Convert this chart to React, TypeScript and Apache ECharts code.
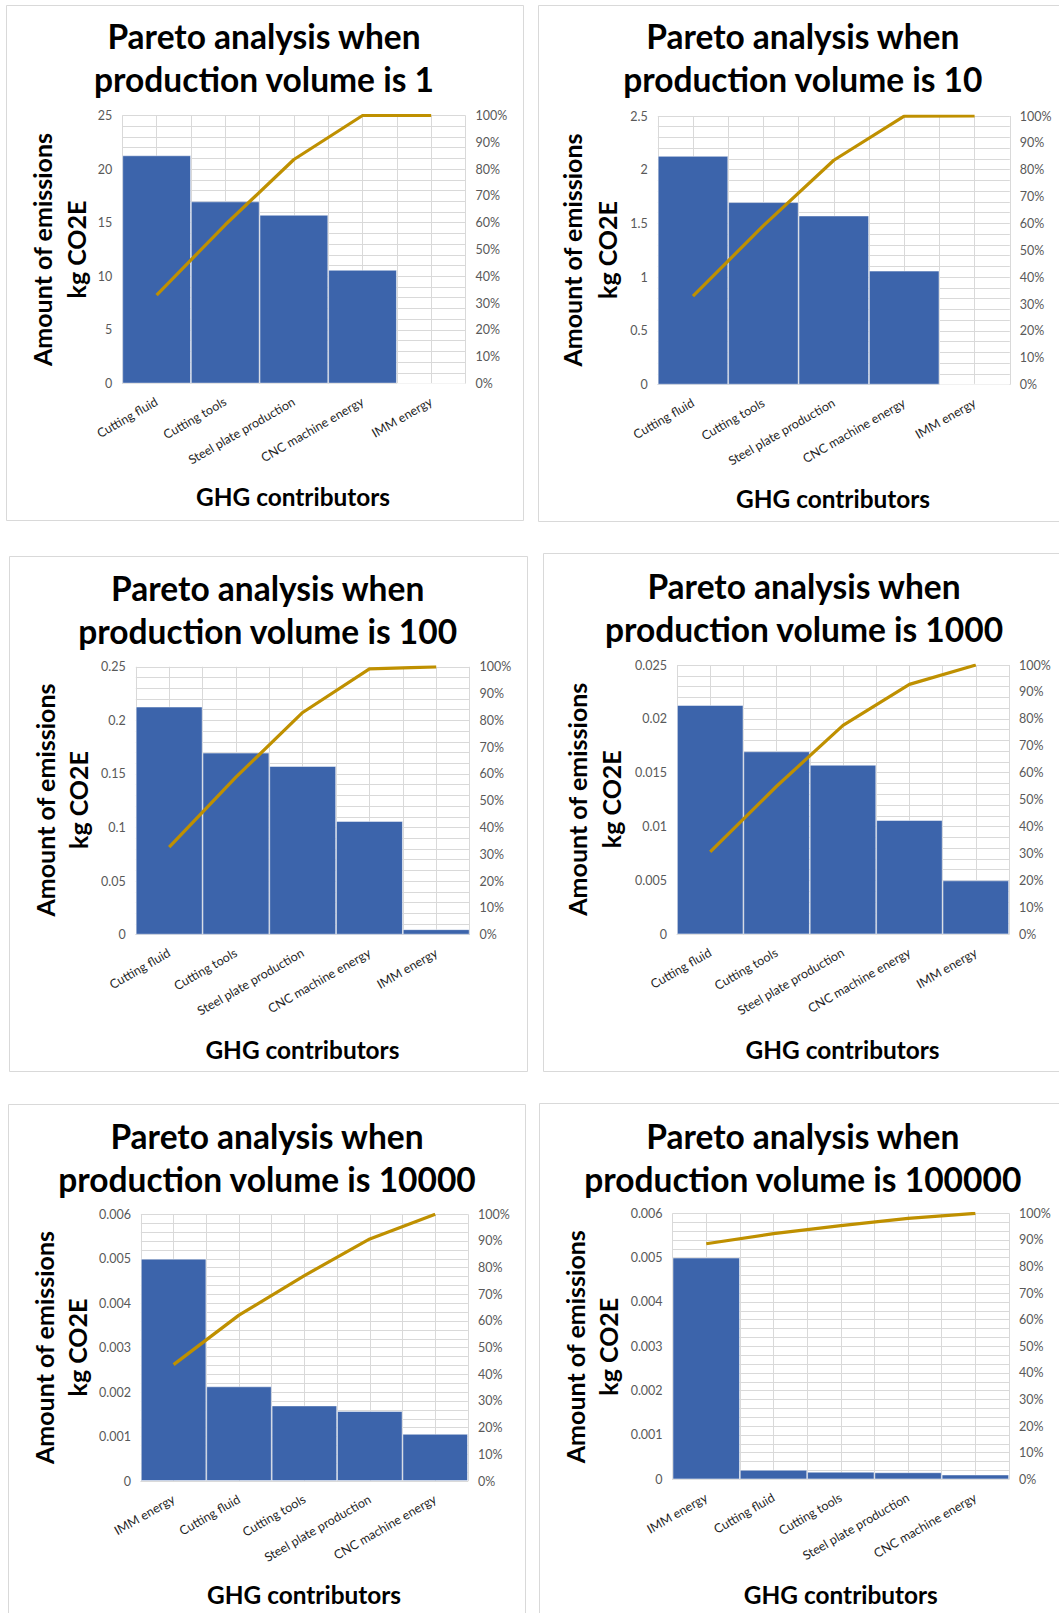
import React, { useEffect, useRef } from "react";
import * as echarts from "echarts";

// Contributors, in descending order of emissions for each production volume
const CATS_SMALL_RUN = ["Cutting fluid", "Cutting tools", "Steel plate production", "CNC machine energy", "IMM energy"];
const CATS_LARGE_RUN = ["IMM energy", "Cutting fluid", "Cutting tools", "Steel plate production", "CNC machine energy"];

// Emissions per part, kg CO2E
const VOL_1 = [21.28, 16.98, 15.73, 10.6, 0.005];
const VOL_10 = [2.128, 1.698, 1.573, 1.06, 0.005];
const VOL_100 = [0.2128, 0.1698, 0.1573, 0.106, 0.005];
const VOL_1000 = [0.02128, 0.01698, 0.01573, 0.0106, 0.005];
const VOL_10000 = [0.005, 0.002128, 0.001698, 0.001573, 0.00106];
const VOL_100000 = [0.005, 0.0002128, 0.0001698, 0.0001573, 0.000106];

const VOLUME_LABELS = ["1", "10", "100", "1000", "10000", "100000"];
const AXIS_MAX = [25, 2.5, 0.25, 0.025, 0.006, 0.006];
const AXIS_STEP = [5, 0.5, 0.05, 0.005, 0.001, 0.001];

const BAR_COLOR = "#3c64ab";
const LINE_COLOR = "#bf9000";
const GRID_COLOR = "#d9d9d9";
const FONT = "Lato, 'Open Sans', sans-serif";

type Panel = {
  cats: string[];
  values: number[];
  volume: string;
  max: number;
  step: number;
  box: [number, number, number, number]; // outline x, y, w, h
  plot: [number, number, number, number]; // plot left, top, width, height
  titleX: number;
  titleY: number;
  yLab: [number, number, number]; // x of first line, x of second line, centre y
  xTitle: [number, number];
};

const PANELS: Panel[] = [
  {
    cats: CATS_SMALL_RUN, values: VOL_1, volume: VOLUME_LABELS[0], max: AXIS_MAX[0], step: AXIS_STEP[0],
    box: [6, 5, 517, 515], plot: [122.3, 115.5, 343.2, 268], titleX: 264, titleY: 36,
    yLab: [42, 76, 249.5], xTitle: [293, 496.6],
  },
  {
    cats: CATS_SMALL_RUN, values: VOL_10, volume: VOLUME_LABELS[1], max: AXIS_MAX[1], step: AXIS_STEP[1],
    box: [538, 5, 540, 516], plot: [657.8, 116, 352, 268.6], titleX: 802.8, titleY: 36,
    yLab: [572.2, 607, 250], xTitle: [833, 498],
  },
  {
    cats: CATS_SMALL_RUN, values: VOL_100, volume: VOLUME_LABELS[2], max: AXIS_MAX[2], step: AXIS_STEP[2],
    box: [9, 556, 518, 515], plot: [135.8, 666.8, 333.8, 267.8], titleX: 267.7, titleY: 587.5,
    yLab: [44.6, 78.4, 800], xTitle: [302.4, 1049],
  },
  {
    cats: CATS_SMALL_RUN, values: VOL_1000, volume: VOLUME_LABELS[3], max: AXIS_MAX[3], step: AXIS_STEP[3],
    box: [543, 553, 540, 518], plot: [677, 665, 332, 269.3], titleX: 804, titleY: 585.7,
    yLab: [577.3, 611, 799.2], xTitle: [842.5, 1049],
  },
  {
    cats: CATS_LARGE_RUN, values: VOL_10000, volume: VOLUME_LABELS[4], max: AXIS_MAX[4], step: AXIS_STEP[4],
    box: [8, 1104, 517, 530], plot: [140.9, 1214.3, 327, 266.7], titleX: 267, titleY: 1136,
    yLab: [43.9, 77, 1347.5], xTitle: [304, 1594],
  },
  {
    cats: CATS_LARGE_RUN, values: VOL_100000, volume: VOLUME_LABELS[5], max: AXIS_MAX[5], step: AXIS_STEP[5],
    box: [539, 1103, 540, 530], plot: [672.6, 1213.3, 336.4, 266], titleX: 802.8, titleY: 1136,
    yLab: [574.6, 608.4, 1346.7], xTitle: [840.8, 1594],
  },
];

// Pareto line: running share of the total
function cumulativeShare(values: number[]): number[] {
  const total = values.reduce((a, b) => a + b, 0);
  let run = 0;
  return values.map((v) => {
    run += v;
    return run / total;
  });
}

function buildOption() {
  const grid: any[] = [];
  const xAxis: any[] = [];
  const yAxis: any[] = [];
  const series: any[] = [];
  const title: any[] = [];
  const graphic: any[] = [];

  PANELS.forEach((p, i) => {
    const [gl, gt, gw, gh] = p.plot;
    grid.push({ left: gl, top: gt, width: gw, height: gh, containLabel: false });

    xAxis.push({
      type: "category",
      gridIndex: i,
      data: p.cats,
      axisLine: { show: true, lineStyle: { color: GRID_COLOR, width: 1 } },
      axisTick: { show: false },
      axisLabel: {
        interval: 0,
        rotate: 30,
        margin: 17,
        fontSize: 12.5,
        color: "#1f1f1f",
        fontFamily: FONT,
      },
      splitLine: { show: false },
    });
    // half-category vertical grid
    xAxis.push({
      type: "value",
      gridIndex: i,
      position: "top",
      min: 0,
      max: 10,
      interval: 1,
      axisLine: { show: false },
      axisTick: { show: false },
      axisLabel: { show: false },
      splitLine: { show: true, lineStyle: { color: GRID_COLOR, width: 1 } },
    });

    yAxis.push({
      type: "value",
      gridIndex: i,
      position: "left",
      min: 0,
      max: p.max,
      interval: p.step,
      axisLine: { show: false },
      axisTick: { show: false },
      axisLabel: { color: "#595959", fontSize: 12.5, margin: 10, fontFamily: FONT },
      splitLine: { show: true, lineStyle: { color: GRID_COLOR, width: 1 } },
      minorTick: { show: false, splitNumber: 5 },
      minorSplitLine: { show: true, lineStyle: { color: GRID_COLOR, width: 1 } },
    });
    yAxis.push({
      type: "value",
      gridIndex: i,
      position: "right",
      min: 0,
      max: 1,
      interval: 0.1,
      axisLine: { show: false },
      axisTick: { show: false },
      axisLabel: {
        color: "#595959",
        fontSize: 12.5,
        margin: 10,
        fontFamily: FONT,
        formatter: (v: number) => Math.round(v * 100) + "%",
      },
      splitLine: { show: false },
    });

    series.push({
      type: "bar",
      xAxisIndex: 2 * i,
      yAxisIndex: 2 * i,
      data: p.values,
      barCategoryGap: "0%",
      itemStyle: { color: BAR_COLOR, borderColor: "rgba(255,255,255,0.6)", borderWidth: 0.8 },
      z: 2,
    });
    series.push({
      type: "line",
      xAxisIndex: 2 * i,
      yAxisIndex: 2 * i + 1,
      data: cumulativeShare(p.values),
      symbol: "none",
      lineStyle: { color: LINE_COLOR, width: 3.2 },
      z: 3,
    });

    title.push({
      text: "Pareto analysis when\nproduction volume is " + p.volume,
      left: p.titleX,
      top: p.titleY - 21.5,
      textAlign: "center",
      padding: 0,
      textStyle: {
        fontFamily: FONT,
        fontSize: 33.5,
        fontWeight: "bold",
        color: "#000000",
        lineHeight: 43,
      },
    });

    const [bx, by, bw, bh] = p.box;
    graphic.push({
      type: "rect",
      shape: { x: bx + 0.5, y: by + 0.5, width: bw, height: bh },
      style: { fill: "none", stroke: GRID_COLOR, lineWidth: 1 },
      silent: true,
    });
    const yLabStyle = {
      fontFamily: FONT,
      fontSize: 25,
      fontWeight: "bold",
      fill: "#000000",
      align: "center",
      verticalAlign: "middle",
    };
    graphic.push({
      type: "text",
      x: p.yLab[0],
      y: p.yLab[2],
      rotation: Math.PI / 2,
      style: { ...yLabStyle, text: "Amount of emissions" },
    });
    graphic.push({
      type: "text",
      x: p.yLab[1],
      y: p.yLab[2],
      rotation: Math.PI / 2,
      style: { ...yLabStyle, text: "kg CO2E" },
    });
    graphic.push({
      type: "text",
      x: p.xTitle[0],
      y: p.xTitle[1],
      style: {
        text: "GHG contributors",
        fontFamily: FONT,
        fontSize: 24.4,
        fontWeight: "bold",
        fill: "#000000",
        align: "center",
        verticalAlign: "middle",
      },
    });
  });

  return {
    animation: false,
    backgroundColor: "#ffffff",
    title,
    grid,
    xAxis,
    yAxis,
    series,
    graphic,
  };
}

export default function App() {
  const ref = useRef<HTMLDivElement>(null);

  useEffect(() => {
    if (!ref.current) return;
    const chart = echarts.init(ref.current, undefined, { renderer: "svg" });
    chart.setOption(buildOption());
    return () => chart.dispose();
  }, []);

  return (
    <div
      ref={ref}
      style={{ position: "absolute", left: 0, top: 0, width: 1059, height: 1613, overflow: "hidden" }}
    />
  );
}
